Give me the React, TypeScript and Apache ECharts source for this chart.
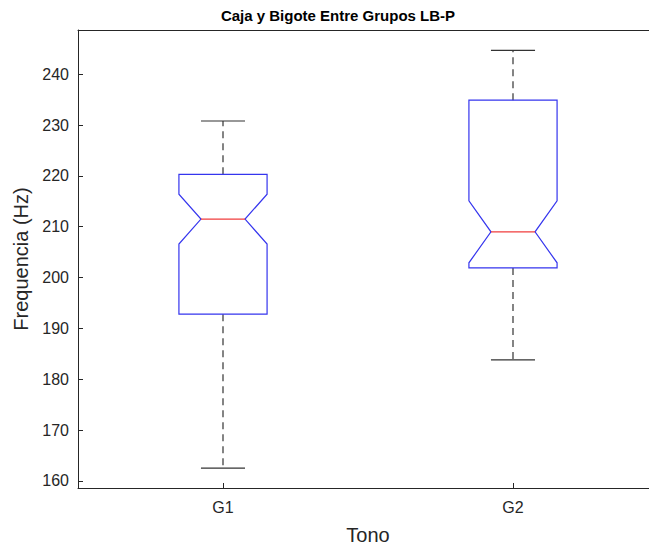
import React, { useEffect, useRef } from "react";
import * as echarts from "echarts";

// Group names and the five-number summary (plus notch limits) per group, in Hz
const groups = ["G1", "G2"];
const lowerWhisker = [162.5, 183.8];
const q1 = [192.8, 201.9];
const notchLow = [206.6, 202.9];
const median = [211.5, 209.0];
const notchHigh = [216.4, 215.1];
const q3 = [220.3, 234.9];
const upperWhisker = [230.8, 244.7];
const yTicks = [160, 170, 180, 190, 200, 210, 220, 230, 240];

const FONT = "'Liberation Sans', Arial, Helvetica, sans-serif";
const INK = "#262626";

export default function App() {
  const ref = useRef<HTMLDivElement>(null);

  useEffect(() => {
    if (!ref.current) return;
    document.documentElement.style.overflow = "hidden";
    document.body.style.overflow = "hidden";
    document.body.style.margin = "0";
    const chart = echarts.init(ref.current, undefined, { renderer: "svg" });

    const data = groups.map((_, i) => [
      i + 1,
      lowerWhisker[i],
      q1[i],
      notchLow[i],
      median[i],
      notchHigh[i],
      q3[i],
      upperWhisker[i],
    ]);

    const halfBox = 0.152;
    const halfNotch = 0.076;

    const renderItem = (params: any, api: any) => {
      const x = api.value(0);
      const vals = [1, 2, 3, 4, 5, 6, 7].map((k) => api.value(k));
      const [lo, bq1, nlo, med, nhi, bq3, hi] = vals;
      const p = (xx: number, yy: number) => api.coord([xx, yy]);
      const boxPts = [
        p(x - halfBox, bq3),
        p(x + halfBox, bq3),
        p(x + halfBox, nhi),
        p(x + halfNotch, med),
        p(x + halfBox, nlo),
        p(x + halfBox, bq1),
        p(x - halfBox, bq1),
        p(x - halfBox, nlo),
        p(x - halfNotch, med),
        p(x - halfBox, nhi),
      ];
      const whiskerStyle = { stroke: "#333333", lineWidth: 1.2, lineDash: [7, 5], fill: "none" };
      const capStyle = { stroke: "#333333", lineWidth: 1.2, fill: "none" };
      const seg = (a: number[], b: number[]) => ({ x1: a[0], y1: a[1], x2: b[0], y2: b[1] });
      return {
        type: "group",
        children: [
          { type: "line", shape: seg(p(x, bq3), p(x, hi)), style: whiskerStyle },
          { type: "line", shape: seg(p(x, bq1), p(x, lo)), style: whiskerStyle },
          { type: "line", shape: seg(p(x - halfNotch, hi), p(x + halfNotch, hi)), style: capStyle },
          { type: "line", shape: seg(p(x - halfNotch, lo), p(x + halfNotch, lo)), style: capStyle },
          {
            type: "polygon",
            shape: { points: boxPts },
            style: { stroke: "#3535ee", lineWidth: 1.2, fill: "none" },
          },
          {
            type: "line",
            shape: seg(p(x - halfNotch, med), p(x + halfNotch, med)),
            style: { stroke: "#f03c3c", lineWidth: 1.2, fill: "none" },
          },
        ],
      };
    };

    chart.setOption({
      animation: false,
      backgroundColor: "#ffffff",
      title: {
        text: "Caja y Bigote Entre Grupos LB-P",
        left: 333,
        top: 3,
        textAlign: "center",
        textStyle: { fontFamily: FONT, fontSize: 15, fontWeight: "bold", color: "#000000" },
      },
      grid: {
        left: 78,
        top: 30,
        width: 580,
        height: 458,
        containLabel: false,
        outerBoundsMode: "none",
      },
      xAxis: [
        {
          type: "value",
          min: 0.5,
          max: 2.5,
          name: "Tono",
          nameLocation: "middle",
          nameGap: 37,
          nameTextStyle: { fontFamily: FONT, fontSize: 20, color: INK },
          axisLine: { show: true, onZero: false, lineStyle: { color: INK, width: 1 } },
          axisTick: { show: true, inside: true, length: 5, customValues: [1, 2], lineStyle: { color: INK } },
          axisLabel: {
            customValues: [1, 2],
            formatter: (v: number) => groups[Math.round(v) - 1] ?? "",
            fontFamily: FONT,
            fontSize: 16,
            color: INK,
            margin: 11,
          },
          splitLine: { show: false },
        },
        {
          // top frame line of the axes box
          type: "value",
          position: "top",
          min: 0.5,
          max: 2.5,
          axisLine: { show: true, onZero: false, lineStyle: { color: INK, width: 1 } },
          axisTick: { show: false },
          axisLabel: { show: false },
          splitLine: { show: false },
        },
      ],
      yAxis: {
        type: "value",
        min: 158.6,
        max: 248.7,
        name: "Frequencia (Hz)",
        nameLocation: "middle",
        nameGap: 42,
        nameTextStyle: { fontFamily: FONT, fontSize: 20, color: INK },
        axisLine: { show: true, onZero: false, lineStyle: { color: INK, width: 1 } },
        axisTick: { show: true, inside: true, length: 5, customValues: yTicks, lineStyle: { color: INK } },
        axisLabel: {
          customValues: yTicks,
          fontFamily: FONT,
          fontSize: 16,
          color: INK,
          margin: 9,
        },
        splitLine: { show: false },
      },
      series: [
        {
          type: "custom",
          renderItem,
          data,
          xAxisIndex: 0,
          yAxisIndex: 0,
          encode: { x: 0, y: [1, 7] },
          clip: false,
        },
      ],
    });

    return () => chart.dispose();
  }, []);

  return (
    <div
      ref={ref}
      style={{
        position: "fixed",
        left: 0,
        top: 0,
        width: 649,
        height: 548,
        overflow: "hidden",
        background: "#fff",
      }}
    />
  );
}
